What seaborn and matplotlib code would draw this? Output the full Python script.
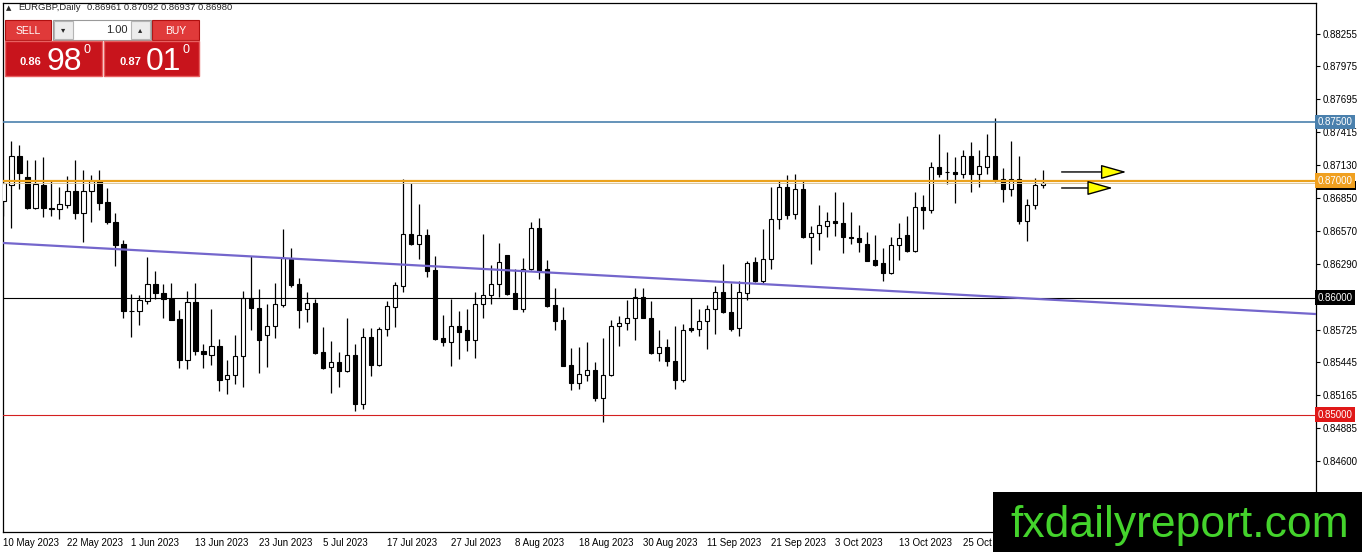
import numpy as np
import pandas as pd
import matplotlib
matplotlib.use('Agg')
import matplotlib.pyplot as plt
from matplotlib.patches import Rectangle
from matplotlib.transforms import Bbox, TransformedBbox
import seaborn as sns

# EURGBP daily candles (one per trading day)
first_day = '2023-05-10'
opens = [0.86824, 0.86958, 0.87212, 0.87031, 0.86762, 0.86958, 0.86768, 0.86759, 0.86793, 0.86907,
         0.86725, 0.86907, 0.86994, 0.86816, 0.86648, 0.86456, 0.85887, 0.85884, 0.85966, 0.86116,
         0.86040, 0.85989, 0.85819, 0.85470, 0.85960, 0.85547, 0.85507, 0.85586, 0.85300, 0.85337,
         0.85499, 0.85997, 0.85909, 0.85682, 0.85758, 0.85935, 0.86332, 0.86114, 0.85906, 0.85952,
         0.85537, 0.85403, 0.85452, 0.85375, 0.85509, 0.85088, 0.85659, 0.85426, 0.85730, 0.85915,
         0.86099, 0.86540, 0.86460, 0.86531, 0.86233, 0.85650, 0.85622, 0.85753, 0.85722, 0.85639,
         0.85943, 0.86020, 0.86119, 0.86361, 0.86037, 0.85906, 0.86247, 0.86597, 0.86241, 0.85935,
         0.85807, 0.85423, 0.85267, 0.85338, 0.85381, 0.85145, 0.85338, 0.85753, 0.85780, 0.85821,
         0.86006, 0.85829, 0.85523, 0.85574, 0.85460, 0.85298, 0.85736, 0.85730, 0.85795, 0.85906,
         0.86051, 0.85872, 0.85736, 0.86037, 0.86304, 0.86142, 0.86327, 0.86673, 0.86946, 0.86717,
         0.86924, 0.86514, 0.86548, 0.86607, 0.86650, 0.86636, 0.86520, 0.86508, 0.86458, 0.86322,
         0.86297, 0.86209, 0.86449, 0.86534, 0.86401, 0.86777, 0.86749, 0.87116, 0.87076, 0.87076,
         0.87057, 0.87206, 0.87057, 0.87116, 0.87206, 0.87014, 0.86929, 0.87014, 0.86650, 0.86791,
         0.86961]
highs = [0.87008, 0.87334, 0.87306, 0.87178, 0.87173, 0.87198, 0.86994, 0.86946, 0.87037, 0.87178,
         0.87093, 0.87045, 0.87088, 0.86938, 0.86725, 0.86490, 0.86031, 0.86025, 0.86348, 0.86229,
         0.86116, 0.86125, 0.85895, 0.86054, 0.86122, 0.85606, 0.85904, 0.85649, 0.85470, 0.85677,
         0.86054, 0.86357, 0.86074, 0.85943, 0.86128, 0.86582, 0.86423, 0.86170, 0.86043, 0.85986,
         0.85744, 0.85631, 0.85531, 0.85829, 0.85602, 0.85736, 0.85736, 0.85750, 0.85972, 0.86133,
         0.87009, 0.86980, 0.86795, 0.86582, 0.86355, 0.85852, 0.85986, 0.85886, 0.85906, 0.86051,
         0.86540, 0.86276, 0.86469, 0.86365, 0.86241, 0.86341, 0.86645, 0.86682, 0.86321, 0.86085,
         0.85920, 0.85565, 0.85574, 0.85622, 0.85446, 0.85650, 0.85807, 0.85844, 0.85977, 0.86085,
         0.86085, 0.85972, 0.85724, 0.85645, 0.85753, 0.85773, 0.86000, 0.85906, 0.85935, 0.86099,
         0.86290, 0.86128, 0.86142, 0.86312, 0.86349, 0.86582, 0.86946, 0.86994, 0.87051, 0.87057,
         0.87003, 0.86607, 0.86791, 0.86734, 0.86901, 0.86816, 0.86732, 0.86619, 0.86562, 0.86534,
         0.86421, 0.86520, 0.86633, 0.86698, 0.86901, 0.86873, 0.87158, 0.87396, 0.87243, 0.87201,
         0.87257, 0.87333, 0.87263, 0.87396, 0.87531, 0.87107, 0.87339, 0.87212, 0.86845, 0.87023,
         0.87092]
lows = [0.86697, 0.86592, 0.86924, 0.86754, 0.86754, 0.86691, 0.86697, 0.86669, 0.86768, 0.86669,
        0.86476, 0.86649, 0.86748, 0.86626, 0.86272, 0.85824, 0.85663, 0.85768, 0.85946, 0.85989,
        0.85824, 0.85804, 0.85399, 0.85388, 0.85507, 0.85399, 0.85422, 0.85201, 0.85176, 0.85261,
        0.85238, 0.85725, 0.85351, 0.85409, 0.85650, 0.85920, 0.86094, 0.85736, 0.85793, 0.85517,
        0.85389, 0.85185, 0.85233, 0.85366, 0.85026, 0.85048, 0.85332, 0.85412, 0.85673, 0.85750,
        0.86043, 0.86446, 0.86327, 0.86176, 0.85640, 0.85588, 0.85418, 0.85474, 0.85545, 0.85483,
        0.85829, 0.85943, 0.86006, 0.86020, 0.85900, 0.85878, 0.86236, 0.86156, 0.85915, 0.85724,
        0.85412, 0.85213, 0.85219, 0.85290, 0.85119, 0.84935, 0.85332, 0.85588, 0.85722, 0.85639,
        0.85824, 0.85520, 0.85460, 0.85418, 0.85219, 0.85276, 0.85702, 0.85673, 0.85560, 0.85687,
        0.85866, 0.85716, 0.85673, 0.85977, 0.86133, 0.86128, 0.86247, 0.86582, 0.86669, 0.86669,
        0.86506, 0.86288, 0.86410, 0.86520, 0.86528, 0.86381, 0.86458, 0.86393, 0.86308, 0.86268,
        0.86141, 0.86203, 0.86322, 0.86393, 0.86393, 0.86585, 0.86726, 0.87028, 0.86972, 0.86811,
        0.87023, 0.86901, 0.86944, 0.87059, 0.86986, 0.86816, 0.86867, 0.86627, 0.86480, 0.86754,
        0.86937]
closes = [0.86980, 0.87207, 0.87065, 0.86762, 0.86966, 0.86762, 0.86759, 0.86796, 0.86907, 0.86725,
          0.86907, 0.86994, 0.86810, 0.86646, 0.86450, 0.85881, 0.85881, 0.85977, 0.86116, 0.86037,
          0.85986, 0.85810, 0.85465, 0.85960, 0.85541, 0.85518, 0.85586, 0.85295, 0.85337, 0.85499,
          0.85997, 0.85909, 0.85640, 0.85753, 0.85943, 0.86341, 0.86105, 0.85895, 0.85952, 0.85526,
          0.85398, 0.85446, 0.85375, 0.85509, 0.85088, 0.85659, 0.85423, 0.85730, 0.85929, 0.86105,
          0.86540, 0.86460, 0.86531, 0.86227, 0.85645, 0.85622, 0.85753, 0.85702, 0.85639, 0.85943,
          0.86020, 0.86119, 0.86307, 0.86028, 0.85906, 0.86247, 0.86597, 0.86227, 0.85929, 0.85801,
          0.85418, 0.85267, 0.85347, 0.85381, 0.85145, 0.85338, 0.85753, 0.85781, 0.85821, 0.86006,
          0.85829, 0.85523, 0.85574, 0.85455, 0.85298, 0.85724, 0.85724, 0.85795, 0.85906, 0.86051,
          0.85872, 0.85730, 0.86051, 0.86298, 0.86142, 0.86327, 0.86673, 0.86946, 0.86703, 0.86924,
          0.86520, 0.86548, 0.86621, 0.86650, 0.86633, 0.86520, 0.86508, 0.86472, 0.86316, 0.86274,
          0.86209, 0.86449, 0.86506, 0.86401, 0.86777, 0.86749, 0.87116, 0.87057, 0.87071, 0.87057,
          0.87206, 0.87057, 0.87121, 0.87206, 0.87008, 0.86929, 0.87014, 0.86655, 0.86791, 0.86960,
          0.86980]

date_labels = ['10 May 2023', '22 May 2023', '1 Jun 2023', '13 Jun 2023', '23 Jun 2023',
               '5 Jul 2023', '17 Jul 2023', '27 Jul 2023', '8 Aug 2023', '18 Aug 2023',
               '30 Aug 2023', '11 Sep 2023', '21 Sep 2023', '3 Oct 2023', '13 Oct 2023',
               '25 Oct 2023']
price_ticks = [0.88255, 0.87975, 0.87695, 0.87415, 0.87130, 0.86850, 0.86570,
               0.86290, 0.85725, 0.85445, 0.85165, 0.84885, 0.84600]

# horizontal levels drawn on the chart
levels = [0.87500, 0.87000, 0.86000, 0.85000]
level_colors = ['#4a80ad', '#eba21c', '#000000', '#d42020']
level_widths = [1.2, 1.6, 0.8, 0.8]
bid = 0.86980
ask = 0.87010

# trend line (bar index, price) and the two arrows
trend_x = [0, 170]
trend_y = [0.86466, 0.85837]
arrow_y = [0.87073, 0.86936]
arrow_start = [132.3, 132.3]
arrow_end = [140.4, 138.7]

W, H = 1362, 552

sns.set_style('white')
plt.rcParams['font.family'] = ['Liberation Sans', 'DejaVu Sans']

fig = plt.figure(figsize=(W / 100, H / 100), dpi=100)
ax = fig.add_axes([3 / W, 1 - 532 / H, (1316 - 3) / W, (532 - 3) / H])

df = pd.DataFrame({'open': opens, 'high': highs, 'low': lows, 'close': closes},
                  index=pd.bdate_range(first_day, periods=len(opens)))
x = np.arange(len(df))
up = df['close'] >= df['open']
body_lo = df[['open', 'close']].min(axis=1)
body_h = (df['close'] - df['open']).abs().clip(lower=0.000025)

# wicks then bodies
ax.vlines(x, df['low'], df['high'], color='black', lw=0.9, zorder=2)
ax.bar(x[up], body_h[up], bottom=body_lo[up], width=0.55, color='white',
       edgecolor='black', linewidth=0.8, zorder=3)
ax.bar(x[~up], body_h[~up], bottom=body_lo[~up], width=0.55, color='black',
       edgecolor='black', linewidth=0.8, zorder=3)

# levels and trend line
ax.axhline(bid, color='#d9c69a', lw=0.7, zorder=4)
for lv, c, w in zip(levels, level_colors, level_widths):
    ax.axhline(lv, color=c, lw=w, zorder=4)
sns.lineplot(x=trend_x, y=trend_y, ax=ax, color='#7466cc', lw=1.6, zorder=4)

for y0, xs, xe in zip(arrow_y, arrow_start, arrow_end):
    ax.annotate('', xy=(xe, y0), xytext=(xs, y0),
                arrowprops=dict(arrowstyle='-|>,head_length=1.6,head_width=0.45',
                                fc='#ffff00', ec='black', lw=1.0, shrinkA=0, shrinkB=0),
                zorder=6)

ax.set_xlim(-0.04, 164.1)
ax.set_ylim(0.83996, 0.88517)

# axes / ticks like MT4
ax.yaxis.tick_right()
ax.set_yticks(price_ticks)
ax.set_yticklabels([f'{p:.5f}' for p in price_ticks])
tick_pos = df.index.get_indexer(pd.to_datetime(date_labels, format='%d %b %Y'))
ax.set_xticks(tick_pos)
ax.set_xticklabels(date_labels, ha='left')
ax.tick_params(axis='both', direction='out', length=3, width=0.8, labelsize=7,
               colors='black', pad=2)
ax.tick_params(axis='x', pad=1)
for s in ax.spines.values():
    s.set_color('black')
    s.set_linewidth(0.9)
ax.set_xlabel('')
ax.set_ylabel('')

# the watermark block cuts the last date label
cut = TransformedBbox(Bbox([[0, 0], [993 / W, 1]]), fig.transFigure)
for lab in ax.get_xticklabels():
    lab.set_clip_box(cut)
    lab.set_clip_on(True)

# price tags on the right scale (bid tag peeks out under the orange one)
ytr = ax.get_yaxis_transform()
ax.add_patch(Rectangle((1.0009, bid - 0.00058), 0.0293, 0.00078, transform=ytr,
                       fc='black', ec='none', clip_on=False, zorder=7))
tag_colors = {0.87500: '#4a80ad', 0.87000: '#f0a020', 0.86000: '#000000', 0.85000: '#e01818'}
for lv, c in tag_colors.items():
    ax.text(1.0012, lv, f'{lv:.5f}', transform=ytr, va='center', ha='left', fontsize=7,
            color='white', clip_on=False, zorder=8,
            bbox=dict(boxstyle='square,pad=0.22', fc=c, ec='none'))


def fx(px):
    return px / W


def fy(py):
    return 1 - py / H


def box(x0, y0, x1, y1, fc, ec='none', lw=0.8, z=10):
    fig.add_artist(Rectangle((fx(x0), fy(y1)), (x1 - x0) / W, (y1 - y0) / H,
                             transform=fig.transFigure, fc=fc, ec=ec, lw=lw, zorder=z))


# symbol line
fig.text(fx(6), fy(8), '▲', fontsize=5, va='center', ha='left', zorder=11,
         family=['DejaVu Sans'])
fig.text(fx(18), fy(8), 'EURGBP,Daily', fontsize=6.8, va='center', ha='left', zorder=11)
fig.text(fx(87), fy(8), f'{opens[-1]:.5f} {highs[-1]:.5f} {lows[-1]:.5f} {closes[-1]:.5f}',
         fontsize=6.8, va='center', ha='left', zorder=11)

# one-click trading panel
box(5, 20, 51, 40, '#e03a3a', '#b01010')
fig.text(fx(28), fy(30.5), 'SELL', color='white', fontsize=7.5, ha='center', va='center', zorder=12)
box(152, 20, 199, 40, '#e03a3a', '#b01010')
fig.text(fx(175.5), fy(30.5), 'BUY', color='white', fontsize=7.5, ha='center', va='center', zorder=12)
box(53, 20, 151, 40, 'white', '#9a9a9a')
box(54, 21, 73, 39, '#ececec', '#b5b5b5')
box(131, 21, 150, 39, '#ececec', '#b5b5b5')
fig.text(fx(63.5), fy(30), '▾', fontsize=6, ha='center', va='center', zorder=12,
         family=['DejaVu Sans'])
fig.text(fx(140.5), fy(30), '▴', fontsize=6, ha='center', va='center', zorder=12,
         family=['DejaVu Sans'])
fig.text(fx(128), fy(30), '1.00', fontsize=8, ha='right', va='center', zorder=12)

for x0, x1, price in [(5, 102, bid), (104, 199, ask)]:
    s = f'{price:.5f}'
    box(x0, 41, x1, 76, '#c8141c', '#e86060', lw=1.0)
    fig.text(fx(x0 + 15), fy(65), s[:4], color='white', fontsize=8, weight='bold',
             ha='left', va='baseline', zorder=12)
    fig.text(fx(x0 + 42), fy(70), s[4:6], color='white', fontsize=23,
             ha='left', va='baseline', zorder=12)
    fig.text(fx(x0 + 78), fy(53), s[6], color='white', fontsize=9,
             ha='left', va='baseline', zorder=12)

# watermark block
box(993, 492, 1362, 552, 'black', z=20)
fig.text(fx(1010), fy(537), 'fxdailyreport.com', color='#44d32c', fontsize=32,
         ha='left', va='baseline', zorder=21)

fig.savefig('out.png', dpi=100, facecolor='white')
